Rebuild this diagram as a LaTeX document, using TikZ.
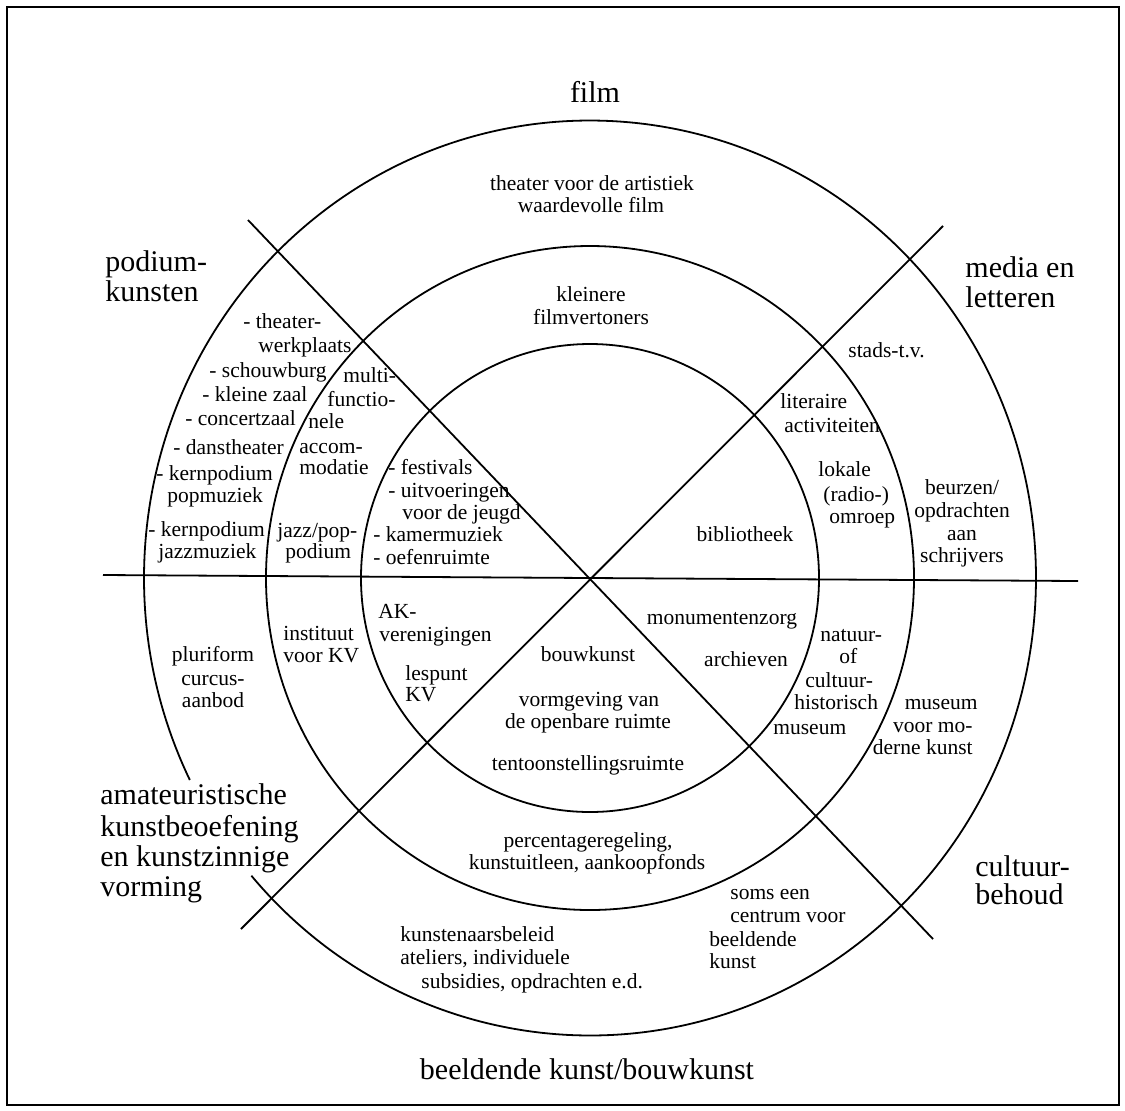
\documentclass[tikz,border=0pt]{standalone}
\usepackage{fontspec}
\setmainfont{Liberation Serif}

\begin{document}
\begin{tikzpicture}[x=0.5pt,y=-0.5pt,
        entry/.style={font=\fontsize{10.75}{12}\selectfont,inner sep=0pt},
        sector/.style={font=\fontsize{15}{16}\selectfont,inner sep=0pt},
        ring/.style={line width=0.9pt}]

        \useasboundingbox (0,0) rectangle (1125,1110);
        \draw[line width=1.4pt] (7,7) rectangle (1119,1105);

        % rings and sector lines
        \coordinate (c)  at (590,578);
        \coordinate (nw) at (248,220);
        \coordinate (se) at (933,939);
        \coordinate (ne) at (943,226);
        \coordinate (sw) at (241,929);
        \coordinate (w)  at (103,575);
        \coordinate (e)  at (1078,581);
        \begin{scope}[ring]
        \draw (c) ellipse [x radius=114.5pt, y radius=117pt];
        \draw (c) ellipse [x radius=162pt, y radius=166pt];
        \draw (c) ++(220.6:223pt and 228.75pt)
              arc [start angle=220.6, end angle=566.2, x radius=223pt, y radius=228.75pt];
        \draw (nw) -- (se);
        \draw (ne) -- (sw);
        \draw (w) -- (e);
        \end{scope}

        % sector names
        \node[sector,anchor=mid] (film) at (595,98) {film};
        \node[sector,anchor=mid] (bk) at (587,1075) {beeldende kunst/bouwkunst};
        \foreach \x/\y/\t [count=\i] in {105/267/podium-, 105/297/kunsten,
                965/273/media en, 965/303/letteren,
                100/800/amateuristische, 100/832/kunstbeoefening,
                100/862/en kunstzinnige, 100/892/vorming,
                975/872/cultuur-, 975/900/behoud}
            \node[sector,anchor=mid west] (sec\i) at (\x,\y) {\t};

        % centred entries
        \foreach \x/\y/\t [count=\i] in {592/186/theater voor de artistiek, 591/208/waardevolle film,
                591/297/kleinere, 591/320/filmvertoners,
                745/537/bibliotheek,
                962/513/opdrachten, 962/536/aan, 962/558/schrijvers,
                213/657/pluriform, 213/681/curcus-, 213/703/aanbod,
                588/657/bouwkunst, 589/702/vormgeving van, 588/724/de openbare ruimte,
                588/766/tentoonstellingsruimte,
                588/843/{percentageregeling,}, 587/865/{kunstuitleen, aankoopfonds},
                722/620/monumentenzorg, 746/662/archieven}
            \node[entry,anchor=mid] (mid\i) at (\x,\y) {\t};
        \node[entry,anchor=mid] (beurzen) at (962,490) {beurzen/};

        % podiumkunsten
        \foreach \x/\y/\t [count=\i] in {243/324/- theater-, 258/348/werkplaats,
                209/373/- schouwburg, 202/397/- kleine zaal, 185/421/- concertzaal,
                173/450/- danstheater, 156/476/- kernpodium, 167/498/popmuziek,
                148/532/- kernpodium, 158/554/jazzmuziek,
                343/378/multi-, 327/402/functio-, 308/424/nele, 299/449/accom-,
                299/470/modatie, 285/554/podium,
                388/470/- festivals, 388/493/- uitvoeringen, 402/515/voor de jeugd,
                373/537/- kamermuziek, 373/560/- oefenruimte}
            \node[entry,anchor=mid west] (pod\i) at (\x,\y) {\t};
        \node[entry,anchor=mid west] (jazzpop) at (277,533) {jazz/pop-};

        % media en letteren
        \foreach \x/\y/\t [count=\i] in {848/353/stads-t.v., 780/404/literaire,
                784/428/activiteiten, 818/472/lokale, 823/497/(radio-), 829/519/omroep}
            \node[entry,anchor=mid west] (med\i) at (\x,\y) {\t};

        % amateuristische kunstbeoefening
        \foreach \x/\y/\t [count=\i] in {378/614/AK-, 379/637/verenigingen,
                405/676/lespunt, 405/697/KV, 283/636/instituut, 283/658/voor KV}
            \node[entry,anchor=mid west] (ama\i) at (\x,\y) {\t};

        % beeldende kunst en cultuurbehoud
        \foreach \x/\y/\t [count=\i] in {400/937/kunstenaarsbeleid,
                400/960/{ateliers, individuele}, 421/984/{subsidies, opdrachten e.d.},
                730/895/soms een, 730/918/centrum voor, 709/942/beeldende, 709/964/kunst,
                820/637/natuur-, 839/659/of, 805/683/cultuur-, 794/705/historisch,
                773/730/museum}
            \node[entry,anchor=mid west] (cul\i) at (\x,\y) {\t};
        \foreach \x/\y/\t [count=\i] in {978/705/museum, 973/728/voor mo-, 973/750/derne kunst}
            \node[entry,anchor=mid east] (mod\i) at (\x,\y) {\t};

\end{tikzpicture}
\end{document}
